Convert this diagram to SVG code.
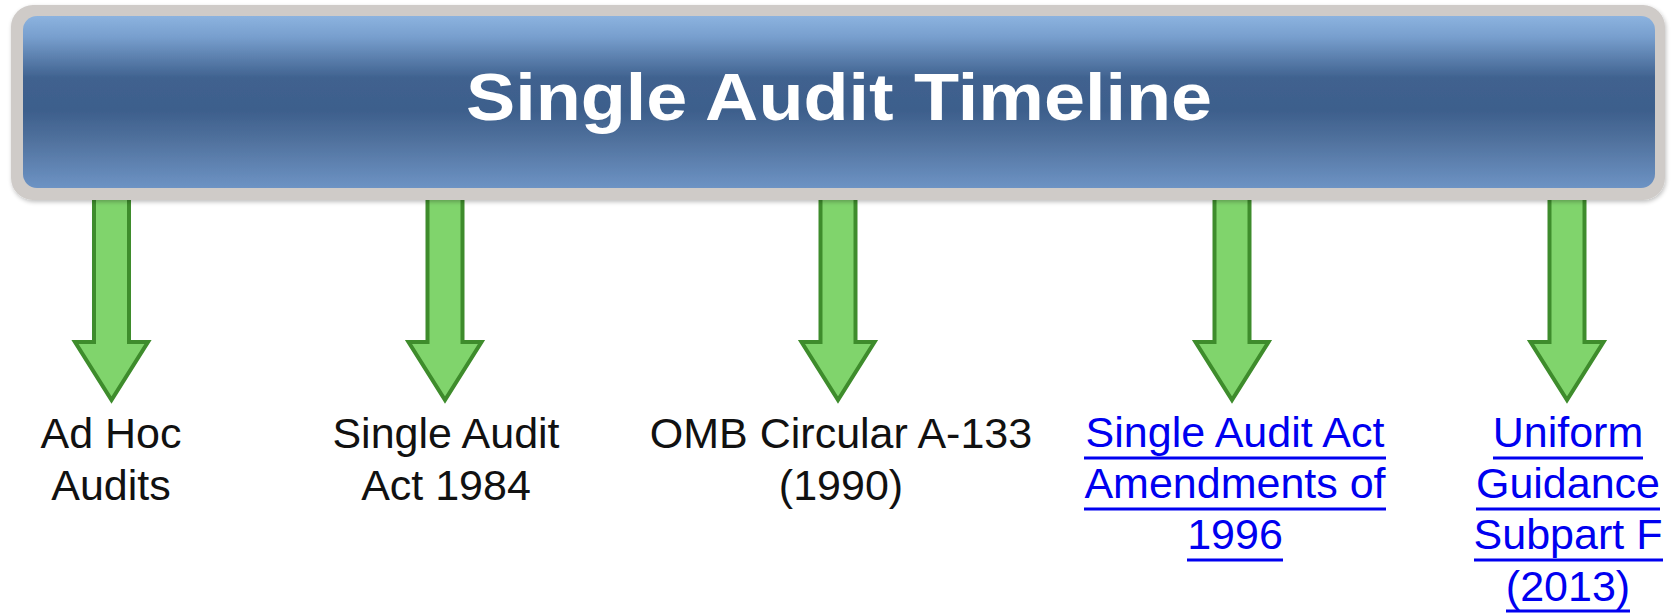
<svg xmlns="http://www.w3.org/2000/svg" width="1671" height="613" viewBox="0 0 1671 613">
  <defs>
    <linearGradient id="hdrGrad" x1="0" y1="0" x2="0" y2="1">
      <stop offset="0" stop-color="#8cb3df"/>
      <stop offset="0.12" stop-color="#789fce"/>
      <stop offset="0.36" stop-color="#40628f"/>
      <stop offset="0.55" stop-color="#3d5f8c"/>
      <stop offset="0.72" stop-color="#50719d"/>
      <stop offset="1" stop-color="#6d93c4"/>
    </linearGradient>
    <filter id="sh" x="-5%" y="-20%" width="110%" height="140%">
      <feGaussianBlur in="SourceAlpha" stdDeviation="2"/>
      <feOffset dx="1" dy="2" result="b"/>
      <feFlood flood-color="#000" flood-opacity="0.25"/>
      <feComposite in2="b" operator="in"/>
      <feMerge><feMergeNode/><feMergeNode in="SourceGraphic"/></feMerge>
    </filter>
  </defs>
  <style>
    .arrow { fill: #80d46c; stroke: #3e8c2c; stroke-width: 4; stroke-linejoin: miter; }
    .lbl { font-family: "Liberation Sans", Arial, sans-serif; font-size: 43px; text-anchor: middle; fill: #111111; }
    .link { fill: #0000f0; }
    .ul { stroke: #0000f0; stroke-width: 3; }
    .title { font-family: "Liberation Sans", Arial, sans-serif; font-weight: bold; font-size: 66px; fill: #ffffff; text-anchor: middle; }
  </style>
  <rect width="1671" height="613" fill="#ffffff"/>

  <g id="connectors">
    <path class="arrow" d="M94,190 L129,190 L129,342 L148,342 L111.5,400 L75,342 L94,342 Z"/>
    <path class="arrow" d="M427.5,190 L462.5,190 L462.5,342 L481.5,342 L445,400 L408.5,342 L427.5,342 Z"/>
    <path class="arrow" d="M820.5,190 L855.5,190 L855.5,342 L874.5,342 L838,400 L801.5,342 L820.5,342 Z"/>
    <path class="arrow" d="M1214.5,190 L1249.5,190 L1249.5,342 L1268.5,342 L1232,400 L1195.5,342 L1214.5,342 Z"/>
    <path class="arrow" d="M1549.5,190 L1584.5,190 L1584.5,342 L1603.5,342 L1567,400 L1530.5,342 L1549.5,342 Z"/>
  </g>

  <g id="header" filter="url(#sh)">
    <rect x="11" y="5" width="1654" height="195" rx="22" ry="22" fill="#cfcbc8"/>
    <rect x="23" y="16" width="1632" height="172" rx="14" ry="14" fill="url(#hdrGrad)"/>
    <text class="title" x="839" y="120" textLength="746" lengthAdjust="spacingAndGlyphs">Single Audit Timeline</text>
  </g>

  <g id="node-adhoc">
    <text class="lbl" x="111" y="448">Ad Hoc</text>
    <text class="lbl" x="111" y="500">Audits</text>
  </g>

  <g id="node-saa1984">
    <text class="lbl" x="446" y="448">Single Audit</text>
    <text class="lbl" x="446" y="500">Act 1984</text>
  </g>

  <g id="node-omb">
    <text class="lbl" x="841" y="448">OMB Circular A-133</text>
    <text class="lbl" x="841" y="500">(1990)</text>
  </g>

  <g id="node-saa1996">
    <text class="lbl link" x="1235" y="447">Single Audit Act</text>
    <text class="lbl link" x="1235" y="498">Amendments of</text>
    <text class="lbl link" x="1235" y="549">1996</text>
    <line class="ul" x1="1084" y1="458" x2="1386" y2="458"/>
    <line class="ul" x1="1084" y1="509" x2="1386" y2="509"/>
    <line class="ul" x1="1187" y1="560" x2="1283" y2="560"/>
  </g>

  <g id="node-ug">
    <text class="lbl link" x="1568" y="447">Uniform</text>
    <text class="lbl link" x="1568" y="498">Guidance</text>
    <text class="lbl link" x="1568" y="549">Subpart F</text>
    <text class="lbl link" x="1568" y="601">(2013)</text>
    <line class="ul" x1="1493" y1="458" x2="1643" y2="458"/>
    <line class="ul" x1="1476" y1="509" x2="1660" y2="509"/>
    <line class="ul" x1="1474" y1="560" x2="1663" y2="560"/>
    <line class="ul" x1="1506" y1="611" x2="1630" y2="611"/>
  </g>
</svg>
